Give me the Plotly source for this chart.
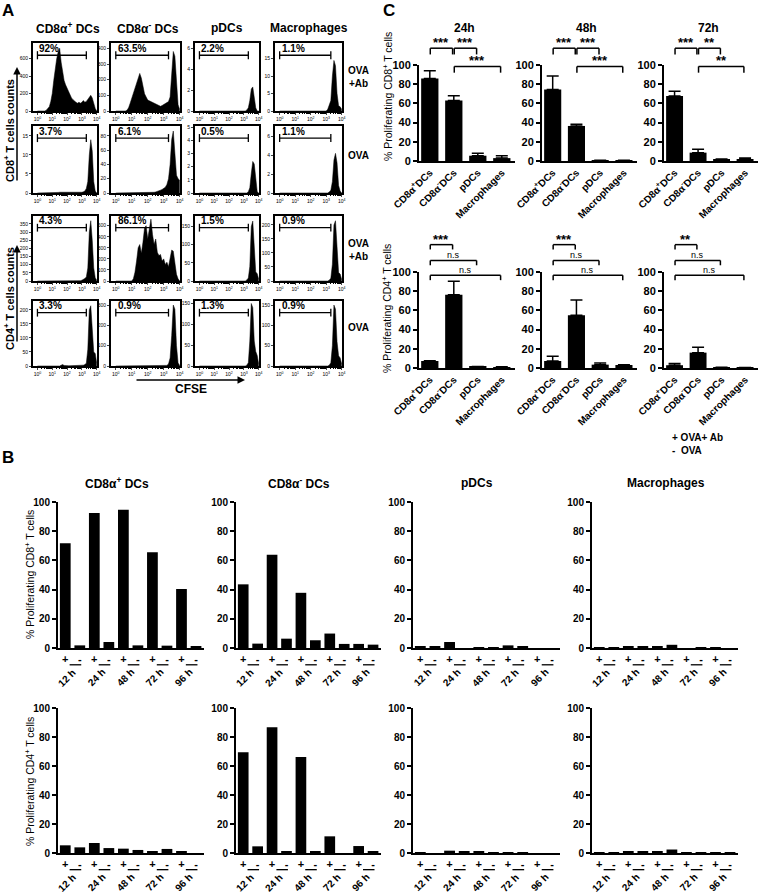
import math
import plotly.graph_objects as go

# ======================= DATA =======================
# Panel A: CFSE histograms (x = log10 CFSE bin position, y = cell counts)
LOG_CFSE = [0.0, 0.1, 0.2, 0.3, 0.4, 0.5, 0.6, 0.7, 0.8, 0.9,
            1.0, 1.1, 1.2, 1.3, 1.4, 1.5, 1.6, 1.7, 1.8, 1.9,
            2.0, 2.1, 2.2, 2.3, 2.4, 2.5, 2.6, 2.7, 2.8, 2.9,
            3.0, 3.1, 3.2, 3.3, 3.4, 3.5, 3.6, 3.7, 3.8, 3.9, 4.0]
CFSE_TICKVALS = [0, 1, 2, 3, 4]
CFSE_TICKTEXT = ["10<sup>0</sup>", "10<sup>1</sup>", "10<sup>2</sup>", "10<sup>3</sup>", "10<sup>4</sup>"]
A_COLUMNS = ["CD8α<sup>+</sup> DCs", "CD8α<sup>-</sup> DCs", "pDCs", "Macrophages"]
A_ROW_LABELS = ["OVA<br>+Ab", "OVA", "OVA<br>+Ab", "OVA"]
A_PERCENT = [["92%", "63.5%", "2.2%", "1.1%"],
             ["3.7%", "6.1%", "0.5%", "1.1%"],
             ["4.3%", "86.1%", "1.5%", "0.9%"],
             ["3.3%", "0.9%", "1.3%", "0.9%"]]
GATE_LOG = [0.0, 3.3]

# CD8+ T cells, OVA + Ab
H_CD8_AB_CD8POS = [0, 0, 0, 0, 0, 0, 10, 25, 50, 110,
                   200, 350, 500, 600, 680, 720, 560, 450, 350, 300,
                   260, 220, 180, 150, 130, 110, 100, 90, 100, 90,
                   100, 120, 100, 110, 130, 160, 180, 150, 80, 30, 0]
H_CD8_AB_CD8NEG = [0, 0, 0, 0, 0, 0, 0, 5, 20, 50,
                   80, 110, 150, 180, 210, 240, 210, 160, 110, 90,
                   70, 65, 60, 50, 45, 42, 40, 35, 30, 35,
                   40, 45, 50, 60, 90, 250, 380, 350, 150, 40, 10]
H_CD8_AB_PDC = [0] * 31 + [0, 0.1, 0.3, 1.0, 2.1, 2.3, 1.5, 0.3, 0, 0]
H_CD8_AB_MAC = [0] * 31 + [0.5, 1.5, 3, 10, 14.5, 13, 5, 1.5, 1.2, 0.5]
# CD8+ T cells, OVA
H_CD8_OVA_CD8POS = [0] * 13 + [0.1, 0.15, 0.2, 0.2, 0.25, 0.2, 0.2, 0.15, 0.15, 0.1,
                               0.1, 0.1, 0.1, 0.1, 0.1, 0.15, 0.15,
                               0.2, 0.3, 0.5, 1.2, 3, 10, 14, 11, 3, 0.5, 0]
H_CD8_OVA_CD8NEG = [0] * 21 + [0.5, 0.5, 1, 1, 1.5, 2, 3, 4, 5,
                               6, 8, 12, 20, 40, 75, 87, 60, 25, 20, 18]
H_CD8_OVA_PDC = [0] * 33 + [0.1, 0.4, 1.5, 2.4, 2.2, 0.8, 0.1, 0]
H_CD8_OVA_MAC = [0] * 32 + [0.1, 0.3, 1.2, 3.5, 4.2, 3.2, 0.8, 0.2, 0]
# CD4+ T cells, OVA + Ab
H_CD4_AB_CD8POS = [0] * 29 + [2, 5, 8, 15, 25, 80, 300, 370, 250, 80, 20, 5]
H_CD4_AB_CD8NEG = [0] * 11 + [20, 80, 180, 300, 330, 250, 350, 480, 500,
                              380, 470, 560, 420, 330, 380, 260, 230, 240, 180,
                              200, 150, 170, 130, 200, 280, 270, 150, 60, 20, 0]
H_CD4_AB_PDC = [0] * 32 + [3, 8, 40, 150, 165, 90, 25, 20, 5]
H_CD4_AB_MAC = [0] * 32 + [3, 10, 60, 200, 215, 110, 30, 25, 5]
# CD4+ T cells, OVA
H_CD4_OVA_CD8POS = [0] * 16 + [3, 5, 2, 1, 1, 1, 1, 1, 1, 1, 1, 1, 1, 1,
                               2, 3, 5, 10, 60, 200, 215, 120, 50, 45, 10]
H_CD4_OVA_CD8NEG = [0] * 32 + [3, 10, 40, 150, 300, 280, 100, 15, 2]
H_CD4_OVA_PDC = [0] * 32 + [2, 8, 60, 150, 140, 60, 35, 25, 5]
H_CD4_OVA_MAC = [0] * 32 + [2, 8, 50, 150, 140, 60, 25, 20, 5]

# Panel B: % proliferating, bars = (+ OVA+Ab, - OVA) x (12,24,48,72,96 h)
B_CELLS = ["CD8α<sup>+</sup> DCs", "CD8α<sup>-</sup> DCs", "pDCs", "Macrophages"]
B_SIGNS = ["+", "-", "+", "-", "+", "-", "+", "-", "+", "-"]
B_TIMES = ["12 h", "24 h", "48 h", "72 h", "96 h"]
B_CD8_CD8POS = [71.8, 1.8, 92.4, 4.1, 94.7, 1.8, 65.6, 1.6, 40.4, 1.1]
B_CD8_CD8NEG = [43.6, 3.0, 63.8, 6.4, 37.8, 5.3, 9.9, 2.8, 2.8, 2.3]
B_CD8_PDC = [1.2, 1.2, 4.1, 0, 0.3, 0.5, 1.8, 1.3, 0, 0]
B_CD8_MAC = [0.4, 0.4, 1.0, 1.2, 1.0, 2.2, 0, 0.3, 0.3, 0]
B_CD4_CD8POS = [5.3, 3.9, 6.9, 3.4, 3.0, 2.1, 1.1, 2.8, 0.9, 0]
B_CD4_CD8NEG = [69.4, 4.6, 86.7, 1.4, 66.2, 1.4, 11.5, 0, 4.8, 0.7]
B_CD4_PDC = [0.3, 0, 1.6, 1.4, 1.2, 0.6, 0.6, 0.5, 0, 0]
B_CD4_MAC = [0.5, 0.4, 0.9, 0.9, 1.0, 2.4, 0.2, 0.2, 0.2, 0.2]

# Panel C: mean +/- SEM
C_CATS = ["CD8α<sup>+</sup>DCs", "CD8α<sup>-</sup>DCs", "pDCs", "Macrophages"]
C_TIMES = ["24h", "48h", "72h"]
C_CD8_MEAN = [[86, 63, 5.5, 3], [74.6, 36.5, 0.5, 0.5], [67.7, 8.7, 1.5, 2]]
C_CD8_SEM = [[8, 5, 2.5, 2.5], [14, 1.7, 0.3, 0.3], [5, 3.5, 0.7, 1]]
C_CD4_MEAN = [[7.3, 76.4, 1.3, 1], [7.3, 54.9, 3.5, 3.1], [2.9, 16, 0.7, 0.3]]
C_CD4_SEM = [[0.3, 14, 0.3, 0.3], [5, 16, 1.7, 0.4], [1.8, 5.5, 0.2, 0.1]]
C_CD8_PAIRS = [(0, 1), (1, 2), (1, 3)]
C_CD4_PAIRS = [(0, 1), (0, 2), (0, 3)]
C_CD8_SIG = [["***", "***", "***"], ["***", "***", "***"], ["***", "**", "**"]]
C_CD4_SIG = [["***", "n.s", "n.s"], ["***", "n.s", "n.s"], ["**", "n.s", "n.s"]]

# ======================= LAYOUT HELPERS =======================
W, H = 760, 892
FONT = "Liberation Sans, Arial, Helvetica, sans-serif"

fig = go.Figure()
axes_layout = {}
shapes = []
annotations = []
_count = [0]


def add_axes(x0, x1, ytop, ybot, xopts, yopts):
    _count[0] += 1
    n = _count[0]
    sfx = "" if n == 1 else str(n)
    xid, yid = "x" + sfx, "y" + sfx
    axes_layout["xaxis" + sfx] = dict(domain=[x0 / W, x1 / W], anchor=yid, automargin=False, **xopts)
    axes_layout["yaxis" + sfx] = dict(domain=[1 - ybot / H, 1 - ytop / H], anchor=xid, automargin=False, **yopts)
    return xid, yid


def font(size, weight="bold"):
    return dict(family=FONT, size=size, color="black", weight=weight)


def note(x, y, s, size=10, weight="bold", xanchor="center", yanchor="middle",
         angle=0, xref="paper", yref="paper", **kw):
    annotations.append(dict(x=x, y=y, text=s, showarrow=False, xref=xref, yref=yref,
                            xanchor=xanchor, yanchor=yanchor, textangle=angle,
                            font=font(size, weight), **kw))


def pnote(px, py, s, **kw):
    note(px / W, 1 - py / H, s, **kw)


def arrow(hx, hy, ax, ay):
    annotations.append(dict(x=hx / W, y=1 - hy / H, xref="paper", yref="paper", text="",
                            showarrow=True, ax=ax, ay=ay, arrowhead=2, arrowsize=1,
                            arrowwidth=1.5, arrowcolor="black"))


# ======================= PANEL A =======================
A_HISTS = [[H_CD8_AB_CD8POS, H_CD8_AB_CD8NEG, H_CD8_AB_PDC, H_CD8_AB_MAC],
           [H_CD8_OVA_CD8POS, H_CD8_OVA_CD8NEG, H_CD8_OVA_PDC, H_CD8_OVA_MAC],
           [H_CD4_AB_CD8POS, H_CD4_AB_CD8NEG, H_CD4_AB_PDC, H_CD4_AB_MAC],
           [H_CD4_OVA_CD8POS, H_CD4_OVA_CD8NEG, H_CD4_OVA_PDC, H_CD4_OVA_MAC]]
A_YMAX = [[780, 434, 6.5, 19.5], [17.6, 94, 5.1, 7.1], [399, 588, 179, 232], [232, 320, 156, 160]]
A_DTICK = [[200, 100, 2, 5], [5, 20, 1, 2], [50, 100, 50, 50], [50, 100, 50, 50]]
A_X0 = [33, 111, 195, 275]
A_X1 = [97, 180, 259, 342]
A_TOP = [43, 126, 216, 301]
A_BOT = [111, 193, 281, 366]

# log-decade minor tick marks (axis styling)
LOG_MINOR = [d + math.log10(m) for d in range(4) for m in range(2, 10)]

hist_x = dict(range=[-0.3, 4.02], tickvals=CFSE_TICKVALS, ticktext=CFSE_TICKTEXT, tickangle=0,
              tickfont=font(5, "normal"), ticks="outside", ticklen=2.5, tickwidth=1,
              minor=dict(tickvals=LOG_MINOR, ticks="outside", ticklen=1.5, tickwidth=0.8,
                         tickcolor="black", showgrid=False),
              showline=True, mirror=True, linewidth=1.8, linecolor="black",
              showgrid=False, zeroline=False, fixedrange=True)

for r in range(4):
    for c in range(4):
        hist_y = dict(range=[0, A_YMAX[r][c]], tick0=0, dtick=A_DTICK[r][c],
                      tickfont=font(5, "normal"), ticks="outside", ticklen=2, tickwidth=1,
                      showline=True, mirror=True, linewidth=1.8, linecolor="black",
                      showgrid=False, zeroline=False, fixedrange=True)
        xid, yid = add_axes(A_X0[c], A_X1[c], A_TOP[r], A_BOT[r], hist_x, hist_y)
        fig.add_trace(go.Scatter(x=LOG_CFSE, y=A_HISTS[r][c], mode="lines",
                                 line=dict(color="black", width=0.5), fill="tozeroy",
                                 fillcolor="black", xaxis=xid, yaxis=yid,
                                 showlegend=False, hoverinfo="skip"))
        yd = yid + " domain"
        g0, g1 = GATE_LOG
        ln = dict(color="black", width=1.3)
        shapes.append(dict(type="line", xref=xid, yref=yd, x0=g0, x1=g1, y0=0.82, y1=0.82, line=ln))
        shapes.append(dict(type="line", xref=xid, yref=yd, x0=g0, x1=g0, y0=0.76, y1=0.88, line=ln))
        shapes.append(dict(type="line", xref=xid, yref=yd, x0=g1, x1=g1, y0=0.76, y1=0.88, line=ln))
        note(g0, 0.84, A_PERCENT[r][c], size=10, xanchor="left", yanchor="bottom",
             xref=xid, yref=yd, yshift=-2)

A_TITLE_X = [68, 148, 227, 309]
for c in range(4):
    pnote(A_TITLE_X[c], 28, A_COLUMNS[c], size=12)
A_ROW_Y = [77, 155, 250, 327]
for r in range(4):
    pnote(346, A_ROW_Y[r], A_ROW_LABELS[r], size=10, xanchor="left")
pnote(9, 131, "CD8<sup>+</sup> T cells counts", size=11, angle=-90)
pnote(9, 299, "CD4<sup>+</sup> T cells counts", size=11, angle=-90)
arrow(17, 67, 0, 115)
arrow(17, 245, 0, 98)
arrow(245, 380, -110, 0)
pnote(191, 389, "CFSE", size=12)
pnote(8, 10, "A", size=17)

# ======================= PANEL C =======================
C_X0 = [419, 542, 664]
C_X1 = [515, 637, 758]
C_ROWS = [(65, 161), (272, 368)]
C_MEANS = [C_CD8_MEAN, C_CD4_MEAN]
C_SEMS = [C_CD8_SEM, C_CD4_SEM]
C_PAIRS = [C_CD8_PAIRS, C_CD4_PAIRS]
C_SIGS = [C_CD8_SIG, C_CD4_SIG]
C_LEVELS = [[1.175, 1.175, 0.985], [1.285, 1.12, 0.965]]

cx = dict(range=[-0.45, 3.55], tickvals=[0, 1, 2, 3], ticktext=C_CATS, tickangle=-45,
          tickfont=font(10), ticks="", showline=True, linewidth=2, linecolor="black",
          showgrid=False, zeroline=False, fixedrange=True)
cy = dict(range=[0, 100], tickvals=[0, 20, 40, 60, 80, 100], tickfont=font(11),
          ticks="outside", ticklen=4, tickwidth=1.5, tickcolor="black", showline=True,
          linewidth=2, linecolor="black", showgrid=False, zeroline=False, fixedrange=True)

for row in range(2):
    for t in range(3):
        xid, yid = add_axes(C_X0[t], C_X1[t], C_ROWS[row][0], C_ROWS[row][1], cx, cy)
        fig.add_trace(go.Bar(x=[0, 1, 2, 3], y=C_MEANS[row][t], width=0.72,
                             marker=dict(color="black", line=dict(width=0)),
                             error_y=dict(type="data", array=C_SEMS[row][t],
                                          arrayminus=[0, 0, 0, 0], symmetric=False,
                                          color="black", thickness=1.5, width=6),
                             xaxis=xid, yaxis=yid, showlegend=False, hoverinfo="skip"))
        yd = yid + " domain"
        ln = dict(color="black", width=1.5)
        for k, (a, b) in enumerate(C_PAIRS[row]):
            lev = C_LEVELS[row][k]
            xa, xb = a + 0.02, b - 0.05
            drop = 0.065 if row == 0 else 0.05
            shapes.append(dict(type="line", xref=xid, yref=yd, x0=xa, x1=xb, y0=lev, y1=lev, line=ln))
            shapes.append(dict(type="line", xref=xid, yref=yd, x0=xa, x1=xa, y0=lev - drop, y1=lev, line=ln))
            shapes.append(dict(type="line", xref=xid, yref=yd, x0=xb, x1=xb, y0=lev - drop, y1=lev, line=ln))
            s = C_SIGS[row][t][k]
            if s.startswith("*"):
                note((xa + xb) / 2, lev, s, size=13, xanchor="center", yanchor="bottom",
                     xref=xid, yref=yd, yshift=-4)
            else:
                note((xa + xb) / 2, lev, s, size=9, weight="normal", xanchor="center",
                     yanchor="bottom", xref=xid, yref=yd, yshift=-1.5)
        if row == 0:
            pnote((C_X0[t] + C_X1[t]) / 2 - 3, 28, C_TIMES[t], size=12)

pnote(387, 97, "% Proliferating CD8<sup>+</sup> T cells", size=10.5, weight="normal", angle=-90)
pnote(387, 309, "% Proliferating CD4<sup>+</sup> T cells", size=10.5, weight="normal", angle=-90)
pnote(389, 10, "C", size=17)

# ======================= PANEL B =======================
B_X0 = [58, 236, 413, 592]
B_X1 = [204, 381, 560, 738]
B_ROWS = [(502, 648), (708, 853)]
B_DATA = [[B_CD8_CD8POS, B_CD8_CD8NEG, B_CD8_PDC, B_CD8_MAC],
          [B_CD4_CD8POS, B_CD4_CD8NEG, B_CD4_PDC, B_CD4_MAC]]

bx = dict(range=[-0.5, 9.55], tickvals=list(range(10)), ticktext=B_SIGNS, tickangle=0,
          tickfont=font(11), ticks="", showline=True, linewidth=2, linecolor="black",
          showgrid=False, zeroline=False, fixedrange=True)
by = dict(range=[0, 100], tickvals=[0, 20, 40, 60, 80, 100], tickfont=font(10),
          ticks="outside", ticklen=4, tickwidth=1.5, tickcolor="black", showline=True,
          linewidth=2, linecolor="black", showgrid=False, zeroline=False, fixedrange=True)

for row in range(2):
    for c in range(4):
        xid, yid = add_axes(B_X0[c], B_X1[c], B_ROWS[row][0], B_ROWS[row][1], bx, by)
        fig.add_trace(go.Bar(x=list(range(10)), y=B_DATA[row][c], width=0.74,
                             marker=dict(color="black", line=dict(width=0)),
                             xaxis=xid, yaxis=yid, showlegend=False, hoverinfo="skip"))
        yd = yid + " domain"
        for i, lab in enumerate(B_TIMES):
            shapes.append(dict(type="line", xref=xid, yref=yd, x0=2 * i + 0.3, x1=2 * i + 1.1,
                               y0=-0.115, y1=-0.115, line=dict(color="black", width=1.3)))
            note(2 * i + 1.1, -0.11, lab, size=10, xanchor="right", yanchor="top",
                 angle=-45, xref=xid, yref=yd)

B_TITLE_X = [117, 299, 477, 666]
for c in range(4):
    pnote(B_TITLE_X[c], 483, B_CELLS[c], size=12)
pnote(29, 575, "% Proliferating CD8<sup>+</sup> T cells", size=10.5, weight="normal", angle=-90)
pnote(29, 782, "% Proliferating CD4<sup>+</sup> T cells", size=10.5, weight="normal", angle=-90)
pnote(670, 437, "+ OVA+ Ab", size=10, xanchor="left")
pnote(670, 451, "-  OVA", size=10, xanchor="left")
pnote(8, 457, "B", size=17)

fig.update_layout(
    width=W, height=H, autosize=False,
    margin=dict(l=0, r=0, t=0, b=0, pad=0, autoexpand=False),
    paper_bgcolor="white", plot_bgcolor="white",
    font=dict(family=FONT, color="black"),
    showlegend=False, hovermode=False,
    shapes=shapes, annotations=annotations,
    **axes_layout,
)

fig.write_html("out.html", config={"displayModeBar": False, "responsive": False},
               post_script="document.body.style.margin='0';document.body.style.padding='0';"
                           "document.body.style.overflow='hidden';")
